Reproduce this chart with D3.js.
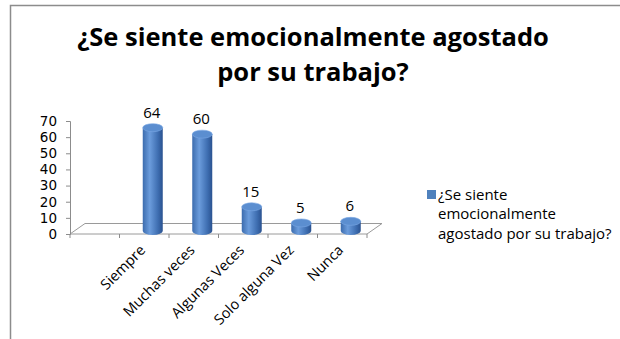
<!DOCTYPE html>
<html>
<head>
<meta charset="utf-8">
<style>
  body { margin: 0; background: #fff; }
  text { font-family: "Open Sans", sans-serif; fill: #000; }
</style>
</head>
<body>
<div id="chart"></div>
<script src="https://d3js.org/d3.v7.min.js"></script>
<script>
// data
var categories = ["Siempre", "Muchas veces", "Algunas Veces", "Solo alguna Vez", "Nunca"];
var values = [64, 60, 15, 5, 6];
var yTicks = [0, 10, 20, 30, 40, 50, 60, 70];
var titleLines = ["¿Se siente emocionalmente agostado", "por su trabajo?"];
var legendLines = ["¿Se siente", "emocionalmente", "agostado por su trabajo?"];

var W = 620, H = 339;
var svg = d3.select("#chart").append("svg")
  .attr("width", W).attr("height", H);

// bar gradient (cylinder shading)
var defs = svg.append("defs");
var g1 = defs.append("linearGradient").attr("id", "cyl").attr("x1", 0).attr("x2", 1).attr("y1", 0).attr("y2", 0);
g1.append("stop").attr("offset", "0%").attr("stop-color", "#3c6cae");
g1.append("stop").attr("offset", "35%").attr("stop-color", "#6b9cdc");
g1.append("stop").attr("offset", "75%").attr("stop-color", "#3f6fb2");
g1.append("stop").attr("offset", "100%").attr("stop-color", "#2a5290");

// outer frame
svg.append("rect")
  .attr("x", 10.5).attr("y", 5.5).attr("width", 640).attr("height", 400)
  .attr("fill", "none").attr("stroke", "#8c8c8c").attr("stroke-width", 1.5);

// title
svg.selectAll(".title").data(titleLines).enter().append("text")
  .attr("class", "title")
  .attr("x", 313).attr("y", function(d, i) { return 46 + i * 35; })
  .attr("text-anchor", "middle")
  .style("font-size", "25.5px").style("font-weight", "bold")
  .text(function(d) { return d; });

// scales
var x = d3.scaleBand()
  .domain([""].concat(categories))   // first slot is empty, as in the picture
  .range([70, 367]);

var y = d3.scaleLinear()
  .domain([0, 70])
  .range([234, 121]);

// 3D floor
var depthX = 15, depthY = -10.5;
var x0 = x.range()[0], x1 = x.range()[1], yb = y(0);
svg.append("path")
  .attr("d", "M" + x0 + "," + yb + "L" + x1 + "," + yb + "L" + (x1 + depthX) + "," + (yb + depthY) +
    "L" + (x0 + depthX) + "," + (yb + depthY) + "Z")
  .attr("fill", "#fff").attr("stroke", "#9a9a9a").attr("stroke-width", 1);

// x ticks at band edges
var edges = x.domain().map(function(d) { return x(d); }).concat([x1]);
svg.selectAll(".xt").data(edges).enter().append("line")
  .attr("x1", function(d) { return d; }).attr("x2", function(d) { return d; })
  .attr("y1", yb).attr("y2", yb + 4)
  .attr("stroke", "#8c8c8c");

// y axis
var yAxis = d3.axisLeft(y).tickValues(yTicks).tickSize(4).tickPadding(9);
var ya = svg.append("g").attr("transform", "translate(70,0)").call(yAxis);
ya.select(".domain").attr("stroke", "#8c8c8c");
ya.selectAll(".tick line").attr("stroke", "#8c8c8c");
ya.selectAll(".tick text").style("font-size", "13.5px").style("font-family", "DejaVu Sans, sans-serif");

// category labels
svg.selectAll(".cat").data(categories).enter().append("text")
  .attr("class", "cat")
  .attr("transform", function(d) {
    return "translate(" + (x(d) + x.bandwidth() / 2 + 2) + "," + (yb + 17) + ") rotate(-45)";
  })
  .attr("text-anchor", "end")
  .style("font-size", "14.5px")
  .text(function(d) { return d; });

// cylinders
var r = 10, ry = 4, offX = 8.5, offY = -3;
var data = categories.map(function(c, i) { return {c: c, v: values[i]}; });
var bars = svg.selectAll(".bar").data(data).enter().append("g")
  .attr("class", "bar")
  .attr("transform", function(d) { return "translate(" + (x(d.c) + x.bandwidth() / 2 + offX) + "," + offY + ")"; });

bars.append("path")
  .attr("d", function(d) {
    var t = y(d.v), b = y(0);
    return "M" + (-r) + "," + t + "L" + (-r) + "," + b +
      "A" + r + "," + ry + " 0 0 0 " + r + "," + b + "L" + r + "," + t + "Z";
  })
  .attr("fill", "url(#cyl)");

bars.append("ellipse")
  .attr("cx", 0).attr("cy", function(d) { return y(d.v); })
  .attr("rx", r).attr("ry", ry)
  .attr("fill", "#5b8ed0").attr("stroke", "#7aa8e4").attr("stroke-width", 0.6);

// value labels
bars.append("text")
  .attr("x", -1).attr("y", function(d) { return y(d.v) - 10; })
  .attr("text-anchor", "middle")
  .style("font-size", "15px")
  .text(function(d) { return d.v; });

// legend
var lg = svg.append("g").attr("transform", "translate(427,190)");
lg.append("rect").attr("width", 9).attr("height", 9).attr("fill", "#4f81bd");
lg.selectAll("text").data(legendLines).enter().append("text")
  .attr("x", 11).attr("y", function(d, i) { return 9.5 + i * 19.5; })
  .style("font-size", "15px")
  .text(function(d) { return d; });
</script>
</body>
</html>
